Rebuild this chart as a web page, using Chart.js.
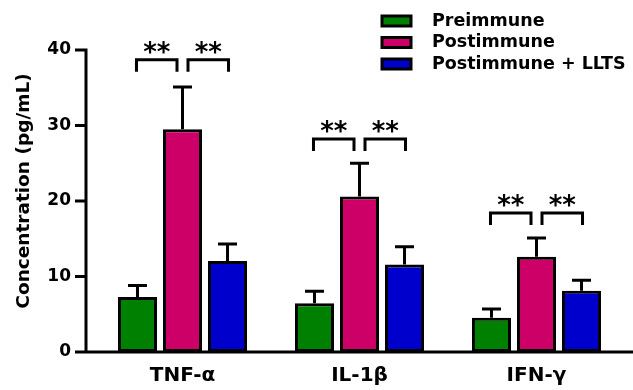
<!DOCTYPE html>
<html>
<head>
<meta charset="utf-8">
<script src="https://cdn.jsdelivr.net/npm/chart.js@4.4.1/dist/chart.umd.min.js"></script>
<style>
    html, body { margin: 0; padding: 0; background: #fff; }
</style>
</head>
<body>
<canvas id="cytokine-chart" width="633" height="390"></canvas>
<script>
//Categories and groups
const Cytokines = ['TNF-α', 'IL-1β', 'IFN-γ'];
const Groups = ['Preimmune', 'Postimmune', 'Postimmune + LLTS'];

//Mean concentrations (pg/mL)
const Preimmune = [7.3, 6.45, 4.55];
const Postimmune = [29.5, 20.6, 12.6];
const PostimmuneLLTS = [12.05, 11.6, 8.1];

//Error bars (upper SD)
const Preimmune_err = [1.5, 1.6, 1.15];
const Postimmune_err = [5.6, 4.4, 2.5];
const PostimmuneLLTS_err = [2.25, 2.35, 1.4];

//Significance brackets: height of the bracket per cytokine + label
const SigLevel = [38.7, 28.2, 18.4];
const SigText = ['**', '**'];

//Y axis ticks
const yTicks = [0, 10, 20, 30, 40];

const ErrorData = [Preimmune_err, Postimmune_err, PostimmuneLLTS_err];

Chart.defaults.font.family = "'DejaVu Sans', sans-serif";
Chart.defaults.font.weight = 'bold';
Chart.defaults.color = '#000';

const ctx = document.getElementById('cytokine-chart');

//Error bars on top of every bar
const errorBars = {
    id: 'errorBars',
    afterDatasetsDraw(chart) {
        const c = chart.ctx;
        const y = chart.scales.y;
        c.save();
        c.strokeStyle = '#000';
        c.lineWidth = 3;
        chart.data.datasets.forEach((ds, i) => {
            chart.getDatasetMeta(i).data.forEach((bar, j) => {
                const yTop = y.getPixelForValue(ds.data[j] + ErrorData[i][j]);
                c.beginPath();
                c.moveTo(bar.x, bar.y);
                c.lineTo(bar.x, yTop);
                c.moveTo(bar.x - 9.5, yTop);
                c.lineTo(bar.x + 9.5, yTop);
                c.stroke();
            });
        });
        c.restore();
    }
};

//Axis lines (offset like GraphPad) + significance brackets
const axesAndBrackets = {
    id: 'axesAndBrackets',
    afterDatasetsDraw(chart) {
        const c = chart.ctx;
        const area = chart.chartArea;
        const y = chart.scales.y;
        const axisX = area.left - 8;
        c.save();
        c.strokeStyle = '#000';
        c.lineWidth = 3;
        c.lineCap = 'butt';

        c.beginPath();
        c.moveTo(axisX, y.getPixelForValue(yTicks[yTicks.length - 1]) - 1.5);
        c.lineTo(axisX, area.bottom + 1.5);
        c.moveTo(axisX, area.bottom);
        c.lineTo(chart.width, area.bottom);
        yTicks.forEach(v => {
            const py = y.getPixelForValue(v);
            c.moveTo(axisX - 11, py);
            c.lineTo(axisX, py);
        });
        c.stroke();

        const metas = Groups.map((g, i) => chart.getDatasetMeta(i));
        c.fillStyle = '#000';
        c.font = "bold 26px 'DejaVu Sans'";
        c.textAlign = 'center';
        c.textBaseline = 'alphabetic';
        Cytokines.forEach((name, j) => {
            const top = y.getPixelForValue(SigLevel[j]);
            const g = metas[0].data[j].x;
            const p = metas[1].data[j].x;
            const b = metas[2].data[j].x;
            const pairs = [[g - 1, p - 5.5], [p + 5.5, b + 1]];
            pairs.forEach(([x1, x2], k) => {
                c.beginPath();
                c.moveTo(x1, top + 12);
                c.lineTo(x1, top);
                c.lineTo(x2, top);
                c.lineTo(x2, top + 12);
                c.stroke();
                c.fillText(SigText[k], (x1 + x2) / 2, top + 1);
            });
        });
        c.restore();
    }
};

//Moves the legend to the top right corner
const legendPlace = {
    id: 'legendPlace',
    afterLayout(chart) {
        const lg = chart.legend;
        lg.left = 378;
        lg.right = 633;
        lg.top = 8.25;
        lg.bottom = 100;
        lg.width = lg.right - lg.left;
        lg.height = lg.bottom - lg.top;
    }
};

//Y title sits a bit above the middle of the axis: shift the scale box
//while the axis is drawn, put it back before the bars (bar clipping)
const titleShift = {
    id: 'titleShift',
    beforeDraw(chart) {
        chart.scales.y.top -= 10;
        chart.scales.y.bottom -= 10;
    },
    beforeDatasetsDraw(chart) {
        chart.scales.y.top += 10;
        chart.scales.y.bottom += 10;
    }
};

const data = {
    labels: Cytokines,
    datasets: [{
        label: Groups[0],
        data: Preimmune,
        backgroundColor: '#008000'
    }, {
        label: Groups[1],
        data: Postimmune,
        backgroundColor: '#cc0066'
    }, {
        label: Groups[2],
        data: PostimmuneLLTS,
        backgroundColor: '#0000cc'
    }]
};

data.datasets.forEach(ds => {
    ds.borderColor = '#000';
    ds.borderWidth = 3;
    ds.borderSkipped = false;
    ds.categoryPercentage = 0.763;
    ds.barPercentage = 0.867;
});

const config = {
    type: 'bar',
    data: data,
    options: {
        responsive: false,
        animation: false,
        layout: { padding: { top: 50, right: 8, left: 0, bottom: 0 } },
        scales: {
            x: {
                grid: { display: false, drawTicks: false },
                border: { display: false },
                ticks: { font: { size: 20, weight: 'bold' }, padding: 12, color: '#000' },
                afterFit: (scale) => { scale.height = 38; }
            },
            y: {
                min: 0,
                max: 40,
                grid: { display: false, drawTicks: false },
                border: { display: false },
                ticks: { font: { size: 17, weight: 'bold' }, padding: 23, color: '#000' },
                afterBuildTicks: (scale) => { scale.ticks = yTicks.map(v => ({ value: v })); },
                afterFit: (scale) => { scale.width = 94; },
                title: {
                    display: true,
                    text: 'Concentration (pg/mL)',
                    font: { size: 18.5, weight: 'bold' },
                    color: '#000',
                    padding: { top: 13, bottom: 0 }
                }
            }
        },
        plugins: {
            tooltip: { enabled: false },
            legend: {
                position: 'chartArea',
                align: 'start',
                labels: {
                    boxWidth: 29,
                    boxHeight: 10,
                    padding: 4,
                    color: '#000',
                    font: { size: 17.5, weight: 'bold' },
                    generateLabels: (chart) => Chart.defaults.plugins.legend.labels.generateLabels(chart)
                        .map(l => ({ ...l, text: '  ' + l.text }))
                }
            }
        }
    },
    plugins: [titleShift, errorBars, axesAndBrackets, legendPlace]
};

let CytokineChart = new Chart(ctx, config);
</script>
</body>
</html>
